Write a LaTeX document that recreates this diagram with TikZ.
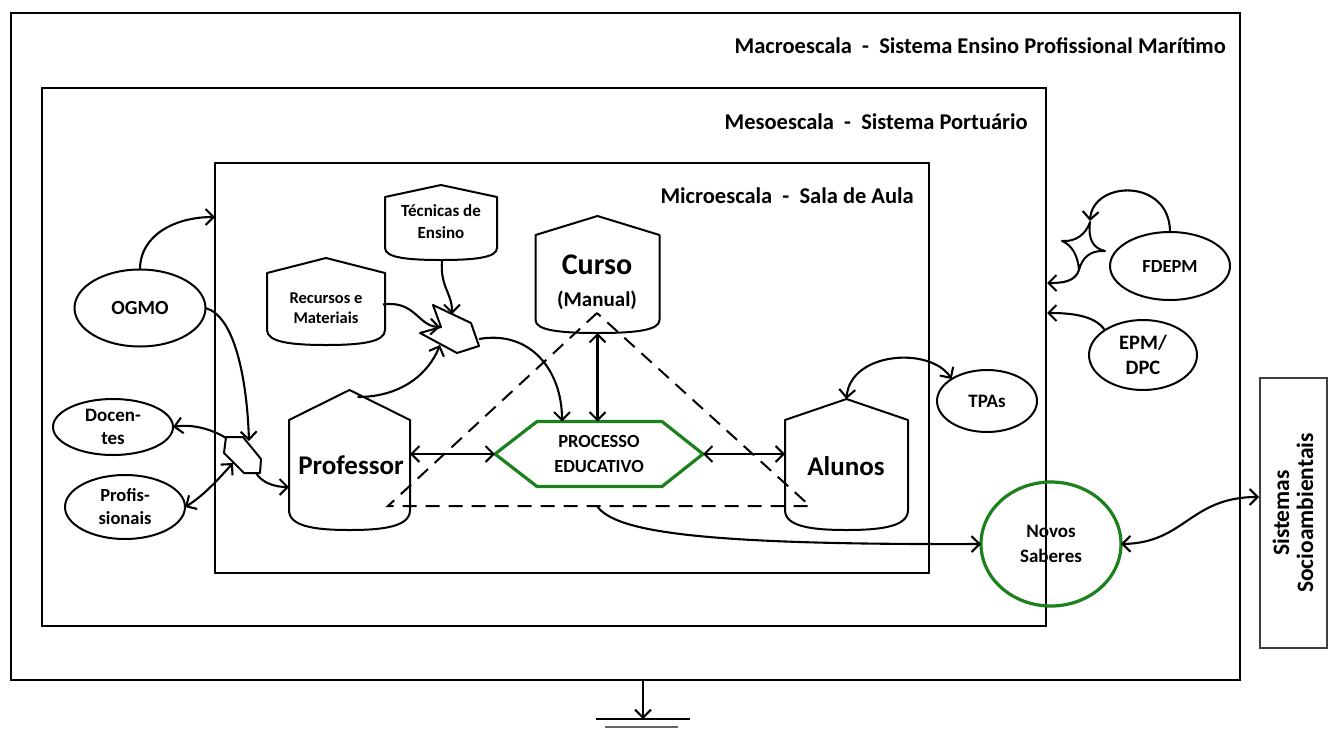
\documentclass[tikz,border=0pt]{standalone}
\usepackage{fontspec}
\setmainfont{Carlito}
\usetikzlibrary{arrows.meta,shapes.geometric,calc}
\definecolor{pgreen}{RGB}{28,128,28}
\newcommand\tankdraw[4]{%
  \draw[tank] ($(#1.north west)+(0,#3)$) -- (#1.north) -- ($(#1.north east)+(0,#3)$)
   -- ($(#1.south east)+(0,-#4)$) .. controls ($(#1.south east)+(0,-0.2*#4)$) and ($(#1.south)+(0.3*#2,0)$) .. (#1.south)
   .. controls ($(#1.south)+(-0.3*#2,0)$) and ($(#1.south west)+(0,-0.2*#4)$) .. ($(#1.south west)+(0,-#4)$) -- cycle;}
\newcommand\fs[2]{\bfseries\fontsize{#1}{#2}\selectfont}
\begin{document}
\begin{tikzpicture}[x=1pt,y=-1pt,
  >={Straight Barb[length=8pt,width=16pt]},
  frame/.style={draw, line width=2.4pt},
  conn/.style={line width=2.1pt, ->},
  both/.style={line width=2.1pt, <->},
  ell/.style={draw, ellipse, line width=2pt, inner sep=0pt, outer sep=0pt, align=center, font=\fs{19}{23}},
  tankbox/.style={inner sep=0pt, outer sep=0pt},
  ttext/.style={inner sep=0pt, align=center},
  tank/.style={draw, line width=2pt, line join=round},
  lbl/.style={font=\fs{22.5}{25}, anchor=base east, inner sep=0pt},
  tri/.style={line width=2pt, dash pattern=on 14pt off 9pt},
  junc/.style={draw, line width=2pt, line join=round, fill=white}
]
\useasboundingbox (0,0) rectangle (1328,731);

% frames
\draw[frame] (11,13) rectangle (1240,680);
\draw[frame] (42,88) rectangle (1046,626);
\draw[frame] (215,163) rectangle (929,573);
\node[lbl] (macrolbl) at (1226,53) {Macroescala\ \ -\ \ Sistema Ensino Profissional Marítimo};
\node[lbl] (mesolbl) at (1028,129) {Mesoescala\ \ -\ \ Sistema Portuário};
\node[lbl] (microlbl) at (914,203) {Microescala\ \ -\ \ Sala de Aula};

% frame points
\coordinate (ogmoin) at (215,217);
\coordinate (mesoR1) at (1047,283);
\coordinate (mesoR2) at (1047,313);
\coordinate (gtop) at (643,681);
\coordinate (gnd) at (643,719);

% tanks
\node[tankbox, minimum width=112, minimum height=75] (tecnicas) at (441,222.5) {};
\tankdraw{tecnicas}{112}{12}{12}
\node[ttext, font=\fs{17}{22}] (tecnicas-t) at (441,222) {Técnicas de\\Ensino};
\node[tankbox, minimum width=118, minimum height=87] (recursos) at (326,301.5) {};
\tankdraw{recursos}{118}{15}{15}
\node[ttext, font=\fs{16.5}{20.5}] (recursos-t) at (326,308) {Recursos e\\Materiais};
\node[tankbox, minimum width=124, minimum height=117] (curso) at (597.5,274.5) {};
\tankdraw{curso}{124}{19}{13}
\node[ttext, font=\fs{21}{32}] (curso-t) at (597,282) {{\fontsize{30}{32}\selectfont Curso}\\(Manual)};
\node[tankbox, minimum width=121, minimum height=140] (prof) at (349.5,460) {};
\tankdraw{prof}{121}{30}{20}
\node[ttext, font=\fs{27}{30}] (prof-t) at (351,465) {Professor};
\node[tankbox, minimum width=123, minimum height=131] (alunos) at (846.5,464.5) {};
\tankdraw{alunos}{123}{21}{20}
\node[ttext, font=\fs{27}{30}] (alunos-t) at (846,466) {Alunos};

% processo educativo
\node[tankbox, minimum width=208, minimum height=65, align=center, font=\fs{18.5}{25}] (proc) at (599,454) {PROCESSO\\EDUCATIVO};
\draw[draw=pgreen, line width=3.2pt, line join=miter] (proc.west) -- ($(proc.north west)+(42,0)$) -- ($(proc.north east)+(-41,0)$) -- (proc.east) -- ($(proc.south east)+(-41,0)$) -- ($(proc.south west)+(42,0)$) -- cycle;

% dashed triangle
\coordinate (triA) at (597,313);
\coordinate (triL) at (388,506);
\coordinate (triR) at (810,506);
\coordinate (basemid) at (597,506);
\draw[tri] (triA) -- (triL) -- (triR) -- cycle;

% ellipses
\node[ell, minimum width=131, minimum height=77, font=\fs{20}{23}] (ogmo) at (140,308) {OGMO};
\node[ell, minimum width=120, minimum height=56] (docentes) at (113,427) {Docen-\\tes};
\node[ell, minimum width=120, minimum height=64, font=\fs{18.5}{23}] (profis) at (125,507) {Profis-\\sionais};
\node[ell, minimum width=120, minimum height=68, font=\fs{18.5}{23}] (fdepm) at (1170,266) {FDEPM};
\node[ell, minimum width=108, minimum height=70, font=\fs{20.5}{25}] (epm) at (1143,355) {EPM/\\DPC};
\node[ell, minimum width=100, minimum height=62] (tpas) at (987,401) {TPAs};
\node[ell, draw=pgreen, line width=3.2pt, minimum width=140, minimum height=124, font=\fs{19}{25}] (novos) at (1051,544) {Novos\\Saberes};
\node[draw=black!75, line width=2pt, rotate=90, minimum width=270, minimum height=67, inner sep=0pt, align=center, font=\fs{23.5}{24}] (soc) at (1293,513) {Sistemas\\Socioambientais};
\coordinate (socin) at (1259,497);

% junctions
\draw[junc] (226,437) -- (243,437) -- (261,459) -- (260,473) -- (244,473) -- (224,453) -- cycle;
\coordinate (j1top) at (249,441);
\coordinate (j1dl) at (226,438);
\coordinate (j1pl) at (233,463);
\coordinate (j1out) at (256,473);
\draw[junc] (433,305) -- (471,323) -- (479,346) -- (457,353) -- (420,333) -- (441,327) -- cycle;
\coordinate (j2top) at (452,314);
\coordinate (j2notch) at (440,327);
\coordinate (j2bot) at (440,345);
\coordinate (j2right) at (479,339);
\draw[junc] (1090,222) .. controls (1088,238) and (1092,248) .. (1105,251) .. controls (1090,250) and (1082,258) .. (1079,270) .. controls (1078,256) and (1072,245) .. (1062,241) .. controls (1076,242) and (1086,234) .. (1090,222) -- cycle;
\coordinate (startop) at (1090,221);
\coordinate (starbot) at (1079,270);

% connectors
\draw[conn] (ogmo.north) .. controls (140,235) and (175,217) .. (ogmoin);
\draw[conn] (ogmo.east) .. controls (235,316) and (247,380) .. (j1top);
\draw[conn] (j1dl) .. controls (210,428) and (190,424) .. (docentes.east);
\draw[both] (profis.east) .. controls (205,495) and (222,475) .. (j1pl);
\draw[conn] (j1out) .. controls (262,483) and (275,487) .. ($(prof.west)+(0,27)$);
\draw[conn] ($(prof.north)+(8,7)$) .. controls (400,397) and (428,375) .. (j2bot);
\draw[conn] ($(recursos.east)+(-2,3)$) .. controls (415,300) and (418,326) .. (j2notch);
\draw[conn] ($(tecnicas.south)+(1,0)$) .. controls (440,288) and (452,292) .. (j2top);
\draw[conn] (j2right) .. controls (530,330) and (562,370) .. ($(proc.north)+(-37,0)$);
\draw[both] (curso.south) -- (curso.south |- proc.north);
\draw[both] (proc.west -| prof.east) -- (proc.west);
\draw[both] (proc.east) -- (proc.east -| alunos.west);
\draw[both] (alunos.north) .. controls (850,352) and (930,346) .. (tpas.north west);
\draw[conn] (basemid) .. controls (615,532) and (700,545) .. (novos.west);
\draw[both] (novos.east) .. controls (1185,543) and (1190,497) .. (socin);
\draw[conn] (fdepm.north) .. controls (1170,178) and (1093,180) .. (startop);
\draw[conn] (starbot) .. controls (1075,282) and (1062,283) .. (mesoR1);
\draw[conn] (epm.north west) .. controls (1095,315) and (1070,313) .. (mesoR2);

% ground
\draw[conn] (gtop) -- (gnd);
\coordinate (gl1) at (596,719);
\coordinate (gr1) at (690,719);
\coordinate (gl2) at (605,727);
\coordinate (gr2) at (678,727);
\draw[line width=2.2pt] (gl1) -- (gr1);
\draw[line width=2.2pt, black!60] (gl2) -- (gr2);
\end{tikzpicture}
\end{document}
